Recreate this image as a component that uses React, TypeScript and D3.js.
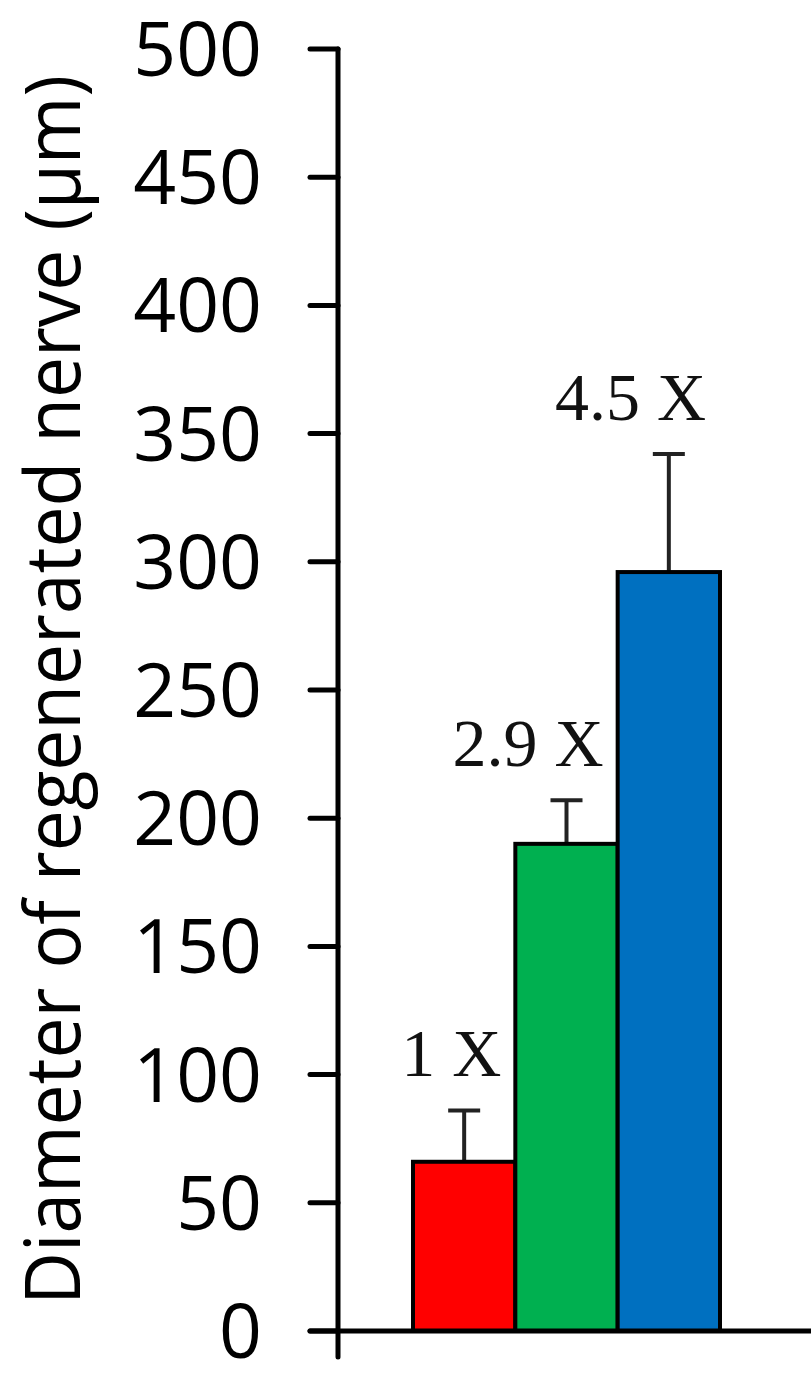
import { scaleBand, scaleLinear, range } from "d3";

const width = 811;
const height = 1375;

// data
const categories = ["1 X", "2.9 X", "4.5 X"];
const values = [66, 190, 296];
const errors = [20, 17, 46];
const colors = ["#ff0000", "#00b050", "#0070c0"];
const yTicks = range(0, 501, 50);
const yLabel = "Diameter of regenerated nerve (\u03bcm)";

const axisX = 338;
const zeroY = 1331;
const topY = 49;

function App() {
  const yScale = scaleLinear().domain([0, 500]).range([zeroY, topY]);
  const xScale = scaleBand().domain(categories).range([413, 720]).padding(0);
  const bw = xScale.bandwidth();

  const bars = categories.map((c, i) => {
    const x = xScale(c) as number;
    const cx = x + bw / 2;
    const errTop = yScale(values[i] + errors[i]);
    return (
      <g key={c}>
        <line x1={cx} x2={cx} y1={yScale(values[i])} y2={errTop} stroke="#222" strokeWidth={4} />
        <line x1={cx - 16} x2={cx + 16} y1={errTop} y2={errTop} stroke="#222" strokeWidth={4} />
        <rect
          x={x}
          y={yScale(values[i])}
          width={bw}
          height={zeroY - yScale(values[i])}
          fill={colors[i]}
          stroke="#000"
          strokeWidth={4}
        />
        <text
          x={x + bw - 14}
          y={errTop - 34}
          textAnchor="end"
          fontFamily="'Liberation Serif', serif"
          fontSize={68}
          fill="#111"
        >
          {c}
        </text>
      </g>
    );
  });

  const ticks = yTicks.map((t) => (
    <g key={t}>
      <line x1={310} x2={axisX} y1={yScale(t)} y2={yScale(t)} stroke="#000" strokeWidth={5} strokeLinecap="round" />
      <text
        x={262}
        y={yScale(t)}
        dy="0.36em"
        textAnchor="end"
        fontFamily="'Open Sans', sans-serif"
        fontSize={75}
        fill="#000"
      >
        {t}
      </text>
    </g>
  ));

  return (
    <svg width={width} height={height} style={{ position: "absolute", left: 0, top: 0, background: "#fff" }}>
      {bars}
      {ticks}
      <line x1={axisX} x2={axisX} y1={topY} y2={1357} stroke="#000" strokeWidth={5} strokeLinecap="round" />
      <line x1={310} x2={width} y1={zeroY} y2={zeroY} stroke="#000" strokeWidth={5} strokeLinecap="round" />
      <text
        transform={`translate(80, ${690}) rotate(-90)`}
        textAnchor="middle"
        fontFamily="'Open Sans', sans-serif"
        fontSize={76}
        textLength={1230}
        lengthAdjust="spacingAndGlyphs"
        fill="#000"
      >
        {yLabel}
      </text>
    </svg>
  );
}

export default App;
